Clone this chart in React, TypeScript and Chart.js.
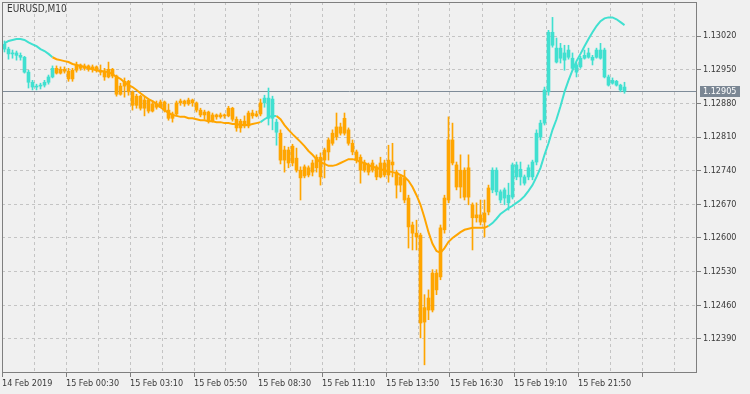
import React, { useEffect, useRef } from 'react';
import { Chart, registerables } from 'chart.js';

Chart.register(...registerables);

const symbolTitle = 'EURUSD,M10';

const opens = [
  1.13003, 1.12993, 1.12983, 1.12985, 1.12980, 1.12976, 1.12945, 1.12924, 1.12914, 1.12916,
  1.12918, 1.12924, 1.12935, 1.12953, 1.12943, 1.12951, 1.12947, 1.12931, 1.12949, 1.12960,
  1.12953, 1.12958, 1.12951, 1.12956, 1.12949, 1.12945, 1.12935, 1.12951, 1.12937, 1.12899,
  1.12916, 1.12926, 1.12904, 1.12876, 1.12895, 1.12870, 1.12887, 1.12864, 1.12879, 1.12872,
  1.12883, 1.12866, 1.12849, 1.12858, 1.12881, 1.12885, 1.12879, 1.12887, 1.12881, 1.12866,
  1.12856, 1.12862, 1.12843, 1.12856, 1.12852, 1.12856, 1.12854, 1.12870, 1.12847, 1.12829,
  1.12843, 1.12833, 1.12860, 1.12854, 1.12858, 1.12881, 1.12891, 1.12849, 1.12841, 1.12818,
  1.12762, 1.12783, 1.12756, 1.12766, 1.12741, 1.12729, 1.12746, 1.12737, 1.12746, 1.12768,
  1.12762, 1.12779, 1.12797, 1.12810, 1.12831, 1.12818, 1.12825, 1.12797, 1.12779, 1.12768,
  1.12741, 1.12752, 1.12741, 1.12748, 1.12727, 1.12756, 1.12731, 1.12758, 1.12737, 1.12710,
  1.12725, 1.12683, 1.12627, 1.12610, 1.12606, 1.12425, 1.12450, 1.12450, 1.12492, 1.12519,
  1.12617, 1.12679, 1.12804, 1.12752, 1.12706, 1.12741, 1.12685, 1.12669, 1.12642, 1.12648,
  1.12633, 1.12654, 1.12700, 1.12741, 1.12696, 1.12683, 1.12689, 1.12685, 1.12752, 1.12727,
  1.12727, 1.12727, 1.12727, 1.12758, 1.12810, 1.12839, 1.12904, 1.13001, 1.12995, 1.12974,
  1.12985, 1.12976, 1.12974, 1.12960, 1.12956, 1.12974, 1.12976, 1.12976, 1.12976, 1.12991,
  1.12991, 1.12935, 1.12922, 1.12926, 1.12918, 1.12914,
];

const highs = [
  1.13010, 1.12997, 1.12991, 1.12989, 1.12985, 1.12978, 1.12949, 1.12928, 1.12920, 1.12922,
  1.12928, 1.12939, 1.12958, 1.12958, 1.12956, 1.12956, 1.12953, 1.12953, 1.12966, 1.12962,
  1.12962, 1.12960, 1.12960, 1.12958, 1.12960, 1.12953, 1.12966, 1.12953, 1.12939, 1.12922,
  1.12933, 1.12928, 1.12906, 1.12899, 1.12897, 1.12893, 1.12889, 1.12885, 1.12885, 1.12887,
  1.12885, 1.12879, 1.12862, 1.12885, 1.12889, 1.12887, 1.12891, 1.12889, 1.12883, 1.12870,
  1.12866, 1.12864, 1.12860, 1.12858, 1.12860, 1.12858, 1.12874, 1.12872, 1.12852, 1.12847,
  1.12854, 1.12864, 1.12866, 1.12864, 1.12889, 1.12897, 1.12912, 1.12895, 1.12847, 1.12825,
  1.12791, 1.12789, 1.12795, 1.12787, 1.12748, 1.12752, 1.12750, 1.12762, 1.12773, 1.12777,
  1.12787, 1.12808, 1.12825, 1.12860, 1.12839, 1.12860, 1.12829, 1.12804, 1.12783, 1.12773,
  1.12762, 1.12756, 1.12762, 1.12752, 1.12768, 1.12762, 1.12793, 1.12797, 1.12741, 1.12731,
  1.12741, 1.12689, 1.12633, 1.12637, 1.12610, 1.12482, 1.12492, 1.12534, 1.12534, 1.12627,
  1.12689, 1.12852, 1.12839, 1.12758, 1.12773, 1.12746, 1.12773, 1.12673, 1.12673, 1.12679,
  1.12679, 1.12710, 1.12746, 1.12746, 1.12700, 1.12704, 1.12714, 1.12756, 1.12758, 1.12758,
  1.12731, 1.12752, 1.12762, 1.12825, 1.12845, 1.12914, 1.13032, 1.13059, 1.13016, 1.13005,
  1.13001, 1.13001, 1.12985, 1.12964, 1.12978, 1.12991, 1.12995, 1.12980, 1.12995, 1.13005,
  1.12995, 1.12939, 1.12933, 1.12928, 1.12920, 1.12924,
];

const lows = [
  1.12987, 1.12972, 1.12974, 1.12970, 1.12970, 1.12943, 1.12912, 1.12908, 1.12908, 1.12910,
  1.12914, 1.12920, 1.12933, 1.12941, 1.12941, 1.12943, 1.12926, 1.12926, 1.12945, 1.12949,
  1.12949, 1.12947, 1.12945, 1.12945, 1.12939, 1.12928, 1.12933, 1.12933, 1.12895, 1.12897,
  1.12893, 1.12897, 1.12866, 1.12870, 1.12866, 1.12854, 1.12860, 1.12862, 1.12868, 1.12872,
  1.12862, 1.12845, 1.12841, 1.12854, 1.12876, 1.12874, 1.12876, 1.12874, 1.12862, 1.12852,
  1.12847, 1.12839, 1.12841, 1.12847, 1.12849, 1.12849, 1.12852, 1.12843, 1.12822, 1.12820,
  1.12829, 1.12829, 1.12849, 1.12852, 1.12854, 1.12872, 1.12835, 1.12825, 1.12793, 1.12754,
  1.12737, 1.12746, 1.12750, 1.12737, 1.12679, 1.12725, 1.12727, 1.12729, 1.12737, 1.12710,
  1.12725, 1.12762, 1.12793, 1.12804, 1.12814, 1.12814, 1.12793, 1.12773, 1.12756, 1.12714,
  1.12737, 1.12731, 1.12737, 1.12721, 1.12725, 1.12727, 1.12716, 1.12727, 1.12683, 1.12696,
  1.12673, 1.12579, 1.12575, 1.12575, 1.12392, 1.12336, 1.12430, 1.12446, 1.12482, 1.12513,
  1.12610, 1.12673, 1.12752, 1.12700, 1.12683, 1.12679, 1.12669, 1.12575, 1.12633, 1.12627,
  1.12602, 1.12648, 1.12694, 1.12689, 1.12673, 1.12669, 1.12658, 1.12681, 1.12721, 1.12710,
  1.12710, 1.12721, 1.12721, 1.12752, 1.12804, 1.12835, 1.12897, 1.12997, 1.12964, 1.12964,
  1.12949, 1.12972, 1.12951, 1.12935, 1.12953, 1.12972, 1.12974, 1.12960, 1.12974, 1.12972,
  1.12933, 1.12916, 1.12920, 1.12916, 1.12904, 1.12901,
];

const closes = [
  1.12993, 1.12983, 1.12985, 1.12980, 1.12976, 1.12945, 1.12924, 1.12914, 1.12916, 1.12918,
  1.12924, 1.12935, 1.12953, 1.12943, 1.12951, 1.12947, 1.12931, 1.12949, 1.12960, 1.12953,
  1.12958, 1.12951, 1.12956, 1.12949, 1.12945, 1.12935, 1.12951, 1.12937, 1.12899, 1.12916,
  1.12926, 1.12904, 1.12876, 1.12895, 1.12870, 1.12887, 1.12864, 1.12879, 1.12872, 1.12883,
  1.12866, 1.12849, 1.12858, 1.12881, 1.12885, 1.12879, 1.12887, 1.12881, 1.12866, 1.12856,
  1.12862, 1.12843, 1.12856, 1.12852, 1.12856, 1.12854, 1.12870, 1.12847, 1.12829, 1.12843,
  1.12833, 1.12860, 1.12854, 1.12858, 1.12881, 1.12891, 1.12849, 1.12889, 1.12820, 1.12762,
  1.12783, 1.12756, 1.12791, 1.12741, 1.12725, 1.12748, 1.12731, 1.12756, 1.12768, 1.12727,
  1.12783, 1.12804, 1.12818, 1.12831, 1.12818, 1.12849, 1.12797, 1.12779, 1.12762, 1.12741,
  1.12756, 1.12737, 1.12756, 1.12727, 1.12756, 1.12731, 1.12762, 1.12752, 1.12710, 1.12727,
  1.12679, 1.12623, 1.12610, 1.12602, 1.12423, 1.12455, 1.12475, 1.12527, 1.12527, 1.12621,
  1.12683, 1.12804, 1.12756, 1.12706, 1.12741, 1.12685, 1.12746, 1.12642, 1.12648, 1.12633,
  1.12652, 1.12704, 1.12741, 1.12696, 1.12679, 1.12700, 1.12673, 1.12752, 1.12727, 1.12743,
  1.12714, 1.12746, 1.12758, 1.12818, 1.12839, 1.12908, 1.13028, 1.13028, 1.12966, 1.12995,
  1.12970, 1.12991, 1.12953, 1.12945, 1.12974, 1.12980, 1.12985, 1.12970, 1.12991, 1.12974,
  1.12935, 1.12918, 1.12928, 1.12918, 1.12908, 1.12905,
];

const maValues = [
  1.13005, 1.13010, 1.13012, 1.13014, 1.13014, 1.13012, 1.13007, 1.13003, 1.12999, 1.12993,
  1.12989, 1.12983, 1.12976, 1.12972, 1.12970, 1.12968, 1.12966, 1.12962, 1.12960, 1.12958,
  1.12956, 1.12953, 1.12951, 1.12949, 1.12947, 1.12947, 1.12945, 1.12941, 1.12935, 1.12931,
  1.12924, 1.12918, 1.12914, 1.12908, 1.12901, 1.12895, 1.12889, 1.12885, 1.12879, 1.12872,
  1.12866, 1.12860, 1.12856, 1.12854, 1.12852, 1.12852, 1.12849, 1.12849, 1.12847, 1.12845,
  1.12845, 1.12843, 1.12843, 1.12841, 1.12841, 1.12839, 1.12839, 1.12837, 1.12837, 1.12835,
  1.12835, 1.12835, 1.12837, 1.12839, 1.12841, 1.12847, 1.12852, 1.12854, 1.12854, 1.12847,
  1.12835, 1.12825, 1.12816, 1.12808, 1.12800, 1.12791, 1.12781, 1.12773, 1.12764, 1.12758,
  1.12754, 1.12750, 1.12750, 1.12752, 1.12756, 1.12760, 1.12764, 1.12764, 1.12762, 1.12758,
  1.12756, 1.12752, 1.12748, 1.12746, 1.12743, 1.12741, 1.12739, 1.12737, 1.12735, 1.12731,
  1.12727, 1.12719, 1.12706, 1.12689, 1.12669, 1.12642, 1.12612, 1.12588, 1.12573, 1.12569,
  1.12579, 1.12592, 1.12600, 1.12606, 1.12612, 1.12617, 1.12619, 1.12621, 1.12621, 1.12621,
  1.12621, 1.12625, 1.12631, 1.12640, 1.12650, 1.12656, 1.12662, 1.12667, 1.12673, 1.12679,
  1.12687, 1.12698, 1.12710, 1.12727, 1.12746, 1.12773, 1.12797, 1.12825, 1.12847, 1.12874,
  1.12904, 1.12928, 1.12949, 1.12968, 1.12983, 1.12999, 1.13014, 1.13028, 1.13041, 1.13051,
  1.13057, 1.13059, 1.13059, 1.13055, 1.13049, 1.13043,
];

// bar index ranges (inclusive) where the trend indicator is "up" (turquoise)
const upTrendRanges = [
  [0, 12],
  [65, 68],
  [122, 155],
];

const timeTickLabels = [
  '14 Feb 2019', '15 Feb 00:30', '15 Feb 03:10', '15 Feb 05:50', '15 Feb 08:30',
  '15 Feb 11:10', '15 Feb 13:50', '15 Feb 16:30', '15 Feb 19:10', '15 Feb 21:50',
];
const barsPerTimeLabel = 16;

const priceTicks = [1.1239, 1.1246, 1.1253, 1.126, 1.1267, 1.1274, 1.1281, 1.1288, 1.1295, 1.1302];
const priceMin = 1.12319;
const priceMax = 1.13091;
const currentPrice = closes[closes.length - 1];

const UP_COLOR = '#40E0D0';
const DOWN_COLOR = '#FFA500';
const BG = '#f0f0f0';
const FRAME = '#7f7f7f';
const GRID = '#c4c4c4';
const TEXT = '#3a3a3a';
const FONT = "'DejaVu Sans Condensed', 'DejaVu Sans', sans-serif";

const isUp = (i: number) => upTrendRanges.some(([a, b]) => i >= a && i <= b);

const decorPlugin = {
  id: 'mtDecor',
  beforeDraw(chart: any) {
    const { ctx, width, height } = chart;
    ctx.save();
    ctx.fillStyle = BG;
    ctx.fillRect(0, 0, width, height);
    ctx.restore();
  },
  beforeDatasetsDraw(chart: any) {
    const { ctx, chartArea } = chart;
    const y = Math.round(chart.scales.y.getPixelForValue(currentPrice)) + 0.5;
    ctx.save();
    ctx.strokeStyle = '#7f8c99';
    ctx.lineWidth = 1;
    ctx.beginPath();
    ctx.moveTo(chartArea.left, y);
    ctx.lineTo(chartArea.right, y);
    ctx.stroke();
    ctx.restore();
  },
  afterDraw(chart: any) {
    const { ctx, chartArea } = chart;
    ctx.save();
    // frame
    ctx.strokeStyle = FRAME;
    ctx.lineWidth = 1;
    ctx.strokeRect(
      chartArea.left + 0.5,
      chartArea.top + 0.5,
      chartArea.right - chartArea.left - 1,
      chartArea.bottom - chartArea.top - 1
    );
    // title
    ctx.fillStyle = TEXT;
    ctx.font = `10px ${FONT}`;
    ctx.textAlign = 'left';
    ctx.textBaseline = 'middle';
    ctx.fillText(symbolTitle, chartArea.left + 5, chartArea.top + 7);
    // current price label
    ctx.font = `9px ${FONT}`;
    const y = Math.round(chart.scales.y.getPixelForValue(currentPrice));
    ctx.fillStyle = '#7b8794';
    ctx.fillRect(chartArea.right + 3, y - 5, 40, 11);
    ctx.fillStyle = '#ffffff';
    ctx.fillText(currentPrice.toFixed(5), chartArea.right + 6, y + 0.5);
    ctx.restore();
  },
};

export default function App() {
  const canvasRef = useRef<HTMLCanvasElement>(null);

  useEffect(() => {
    document.body.style.margin = '0';
    document.body.style.background = BG;
    const canvas = canvasRef.current;
    if (!canvas) return;

    const colors = opens.map((_, i) => (isUp(i) ? UP_COLOR : DOWN_COLOR));

    const chart = new Chart(canvas, {
      type: 'bar',
      data: {
        datasets: [
          {
            type: 'line',
            data: maValues.map((v, i) => ({ x: i, y: v })),
            borderColor: DOWN_COLOR,
            borderWidth: 2,
            pointRadius: 0,
            tension: 0,
            order: 0,
            segment: {
              borderColor: (ctx: any) => (isUp(ctx.p1DataIndex) ? UP_COLOR : DOWN_COLOR),
            },
          } as any,
          {
            type: 'bar',
            data: highs.map((h, i) => ({ x: i, y: [lows[i], h] })),
            backgroundColor: colors,
            barThickness: 1,
            grouped: false,
            order: 2,
          } as any,
          {
            type: 'bar',
            data: opens.map((o, i) => ({ x: i, y: [o, closes[i]] })),
            backgroundColor: colors,
            barThickness: 3,
            minBarLength: 1,
            grouped: false,
            order: 1,
          } as any,
        ],
      },
      options: {
        responsive: false,
        animation: false,
        devicePixelRatio: 1,
        layout: { padding: { left: 2, top: 2, right: 0, bottom: 0 } },
        plugins: { legend: { display: false }, tooltip: { enabled: false } },
        scales: {
          x: {
            type: 'linear',
            min: -0.625,
            max: 173.125,
            offset: false,
            afterBuildTicks: (scale: any) => {
              const t = [];
              for (let k = 0; k * 8 - 0.625 <= 173; k++) t.push({ value: k * 8 - 0.625 });
              scale.ticks = t;
            },
            afterFit: (scale: any) => {
              scale.height = 21;
              scale.paddingLeft = 0;
              scale.paddingRight = 0;
              scale.paddingTop = 0;
              scale.paddingBottom = 0;
            },
            grid: {
              offset: false,
              color: GRID,
              lineWidth: 1,
              tickLength: 4,
              tickColor: (ctx: any) => (ctx.index % 2 === 0 ? FRAME : 'rgba(0,0,0,0)'),
            },
            border: { display: false, dash: [3, 3] },
            ticks: {
              autoSkip: false,
              maxRotation: 0,
              minRotation: 0,
              align: 'start',
              padding: 1,
              color: TEXT,
              font: { family: FONT, size: 9 },
              callback: (_v: any, index: number) => {
                const k = (index * 8) / barsPerTimeLabel;
                return Number.isInteger(k) && k < timeTickLabels.length ? timeTickLabels[k] : '';
              },
            },
          } as any,
          y: {
            type: 'linear',
            position: 'right',
            min: priceMin,
            max: priceMax,
            afterBuildTicks: (scale: any) => {
              scale.ticks = priceTicks.map((v) => ({ value: v }));
            },
            afterFit: (scale: any) => {
              scale.width = 53;
              scale.paddingLeft = 0;
              scale.paddingRight = 0;
              scale.paddingTop = 0;
              scale.paddingBottom = 0;
            },
            grid: {
              color: GRID,
              lineWidth: 1,
              tickLength: 4,
              tickColor: FRAME,
            },
            border: { display: false, dash: [3, 3] },
            ticks: {
              padding: 2,
              color: TEXT,
              font: { family: FONT, size: 9 },
              callback: (v: any) => Number(v).toFixed(5),
            },
          } as any,
        },
      },
      plugins: [decorPlugin],
    } as any);

    return () => chart.destroy();
  }, []);

  return (
    <div style={{ width: 750, height: 394 }}>
      <canvas ref={canvasRef} width={750} height={394} style={{ display: 'block' }} />
    </div>
  );
}
